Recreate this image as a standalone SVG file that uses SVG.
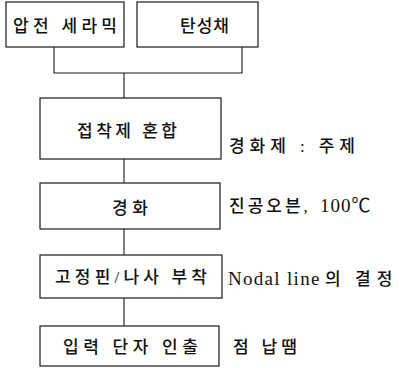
<svg xmlns="http://www.w3.org/2000/svg" width="403" height="368" viewBox="0 0 403 368">
<style>
.box{fill:#fff;stroke:#1a1a1a;stroke-width:1.2}
.ln{fill:none;stroke:#1a1a1a;stroke-width:1.1}
text{font-family:"Liberation Serif","Noto Sans CJK KR",serif;font-size:17px;font-weight:500;fill:#111}
.lat{font-size:19px;font-weight:400}
</style>
<rect width="403" height="368" fill="#fff"/>
<g id="connectors">
<path class="ln" d="M54 47V73H242V47M124 73V98M124 159V183M124 229V255M124 298V326"/>
</g>
<g id="n1"><rect class="box" x="6" y="2" width="118" height="45"/><text x="13" y="32" textLength="104" lengthAdjust="spacing">압전 세라믹</text></g>
<g id="n2"><rect class="box" x="137" y="2" width="121" height="45"/><text x="180" y="32" textLength="49" lengthAdjust="spacing">탄성채</text></g>
<g id="n3"><rect class="box" x="40" y="98" width="181" height="61"/><text x="77" y="137" textLength="100" lengthAdjust="spacing">접착제 혼합</text></g>
<g id="n4"><rect class="box" x="40" y="183" width="180" height="46"/><text x="112" y="214" textLength="36" lengthAdjust="spacing">경화</text></g>
<g id="n5"><rect class="box" x="40" y="255" width="182" height="43"/><text x="55" y="283" textLength="152" lengthAdjust="spacing">고정핀/나사 부착</text></g>
<g id="n6"><rect class="box" x="40" y="326" width="179" height="40"/><text x="63" y="353" textLength="135" lengthAdjust="spacing">입력 단자 인출</text></g>
<g id="labels">
<text x="229" y="152" textLength="126" lengthAdjust="spacing">경화제 : 주제</text>
<text y="212"><tspan x="229" letter-spacing="3">진공오븐,</tspan> <tspan class="lat" x="320" letter-spacing="1">100℃</tspan></text>
<text y="285"><tspan class="lat" x="228" letter-spacing="1.3">Nodal line</tspan><tspan x="325">의</tspan> <tspan x="355" letter-spacing="6">결정</tspan></text>
<text x="233" y="353" textLength="64" lengthAdjust="spacing">점 납땜</text>
</g>
</svg>
